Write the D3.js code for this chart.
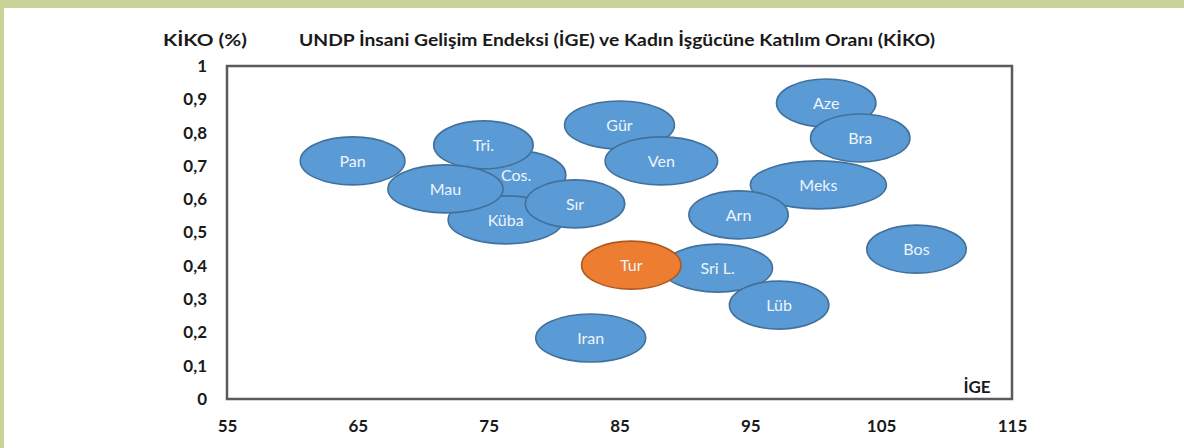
<!DOCTYPE html>
<html>
<head>
<meta charset="utf-8">
<script src="https://cdn.jsdelivr.net/npm/d3@7"></script>
<style>
  body { margin: 0; background: #fff; }
  svg { display: block; }
</style>
</head>
<body>
<svg width="1184" height="448"></svg>
<script>
// bubble data
const countries = ['Pan', 'Cos.', 'Tri.', 'Küba', 'Mau', 'Sır', 'Gür', 'Ven', 'Aze', 'Bra',
                   'Meks', 'Arn', 'Bos', 'Sri L.', 'Tur', 'Lüb', 'Iran']
const ige  = [64.6, 77.1, 74.6, 76.3, 71.7, 81.6, 85.0, 88.2, 100.8, 103.4,
              100.2, 94.1, 107.7, 92.5, 85.9, 97.2, 82.8]
const kiko = [0.715, 0.673, 0.763, 0.538, 0.631, 0.586, 0.823, 0.715, 0.889, 0.784,
              0.643, 0.553, 0.450, 0.393, 0.402, 0.282, 0.183]
// horizontal half-width of each bubble, in IGE units
const span = [4.0, 3.8, 3.8, 4.4, 4.4, 3.8, 4.2, 4.3, 3.8, 3.8,
              5.2, 3.8, 3.8, 4.2, 3.8, 3.8, 4.2]
const highlight = 'Tur'

const xTicks = [55, 65, 75, 85, 95, 105, 115]
const yTicks = [0, 0.1, 0.2, 0.3, 0.4, 0.5, 0.6, 0.7, 0.8, 0.9, 1]

const svg = d3.select('svg'),
      width = +svg.attr('width'),
      height = +svg.attr('height'),
      m = { left: 227, right: 1012, top: 66, bottom: 399 },
      ry = 24

const x = d3.scaleLinear().domain([55, 115]).range([m.left, m.right]),
      y = d3.scaleLinear().domain([0, 1]).range([m.bottom, m.top]),
      comma = (d) => String(+d.toFixed(1)).replace('.', ',')

// green page frame
svg.append('rect').attr('x', 0).attr('y', 0).attr('width', width).attr('height', 8)
  .style('fill', '#c8d398')
svg.append('rect').attr('x', 0).attr('y', 0).attr('width', 4).attr('height', height)
  .style('fill', '#c8d398')

// plot box
svg.append('rect')
  .attr('x', m.left).attr('y', m.top)
  .attr('width', m.right - m.left).attr('height', m.bottom - m.top)
  .style('fill', 'none')
  .style('stroke', '#5a5a5e')
  .style('stroke-width', 2.5)

const font = 'Lato, "Open Sans", sans-serif'

svg.append('g')
    .attr('transform', `translate(${m.left},0)`)
    .call(d3.axisLeft(y).tickValues(yTicks).tickSize(0).tickPadding(20).tickFormat(comma))
    .call(g => g.select('.domain').remove())
    .selectAll('text')
    .style('font', `bold 17px ${font}`)
    .style('fill', '#1a1a1a')

svg.append('g')
    .attr('transform', `translate(0,${m.bottom})`)
    .call(d3.axisBottom(x).tickValues(xTicks).tickSize(0).tickPadding(21).tickFormat(d3.format('d')))
    .call(g => g.select('.domain').remove())
    .selectAll('text')
    .style('font', `bold 17px ${font}`)
    .style('fill', '#1a1a1a')

// titles
svg.append('text')
  .attr('x', 163).attr('y', 46)
  .attr('textLength', 84)
  .attr('lengthAdjust', 'spacingAndGlyphs')
  .style('font', `bold 17px ${font}`)
  .style('fill', '#1a1a1a')
  .text('KİKO (%)')

svg.append('text')
  .attr('x', 299).attr('y', 46)
  .attr('textLength', 636)
  .attr('lengthAdjust', 'spacingAndGlyphs')
  .style('font', `bold 17px ${font}`)
  .style('fill', '#1a1a1a')
  .text('UNDP İnsani Gelişim Endeksi (İGE) ve Kadın İşgücüne Katılım Oranı (KİKO)')

svg.append('text')
  .attr('x', 977).attr('y', 393)
  .style('text-anchor', 'middle')
  .style('font', `bold 17px ${font}`)
  .style('fill', '#1a1a1a')
  .text('İGE')

// bubbles
const data = countries.map((c, i) => ({ name: c, ige: ige[i], kiko: kiko[i], span: span[i] }))

const bubble = svg.selectAll('.bubble')
    .data(data)
  .enter().append('g')
    .attr('class', 'bubble')

bubble.append('ellipse')
  .attr('cx', (d) => x(d.ige))
  .attr('cy', (d) => y(d.kiko))
  .attr('rx', (d) => x(d.ige + d.span) - x(d.ige))
  .attr('ry', ry)
  .style('fill', (d) => d.name == highlight ? '#ed7d31' : '#5b9bd5')
  .style('stroke', (d) => d.name == highlight ? '#ae5a21' : '#41719c')
  .style('stroke-width', 1.6)

bubble.append('text')
  .attr('x', (d) => x(d.ige))
  .attr('y', (d) => y(d.kiko) + 6)
  .style('text-anchor', 'middle')
  .style('font', `16px ${font}`)
  .style('fill', '#eef4fb')
  .text((d) => d.name)
</script>
</body>
</html>
